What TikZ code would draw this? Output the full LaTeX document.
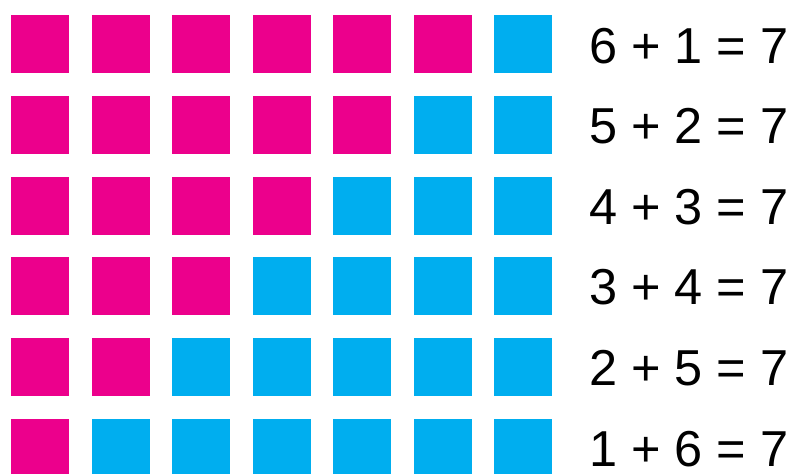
\documentclass[tikz,border=0pt]{standalone}
\usepackage{fontspec}
\setmainfont{Liberation Sans}
\usetikzlibrary{positioning}
\definecolor{rose}{HTML}{EC008C}
\definecolor{sky}{HTML}{00AEEF}
\tikzset{
  tile/.style={rectangle,minimum size=58pt,inner sep=0pt,outer sep=0pt},
  sumtext/.style={anchor=base west,inner sep=0pt,font=\fontsize{50.5}{50}\selectfont,text=black}
}
\begin{document}
\begin{tikzpicture}[x=1pt,y=-1pt]
  % Page frame, the last row runs off the bottom edge.
  \clip (0,0) rectangle (793,474);
  \foreach \r in {1,...,6}{
    \foreach \c in {1,...,7}{
      \pgfmathtruncatemacro{\s}{\c+\r}
      \ifnum\s>7 \def\cc{sky}\else\def\cc{rose}\fi
      \node[tile,fill=\cc] (sq-\r-\c) at ({40+80.5*(\c-1)},{44+80.8*(\r-1)}) {};
    }
    \pgfmathtruncatemacro{\a}{7-\r}
    \node[sumtext] (eq-\r) at (589,{63+80.6*(\r-1)}) {\a{} + \r{} = 7};
  }
\end{tikzpicture}
\end{document}
